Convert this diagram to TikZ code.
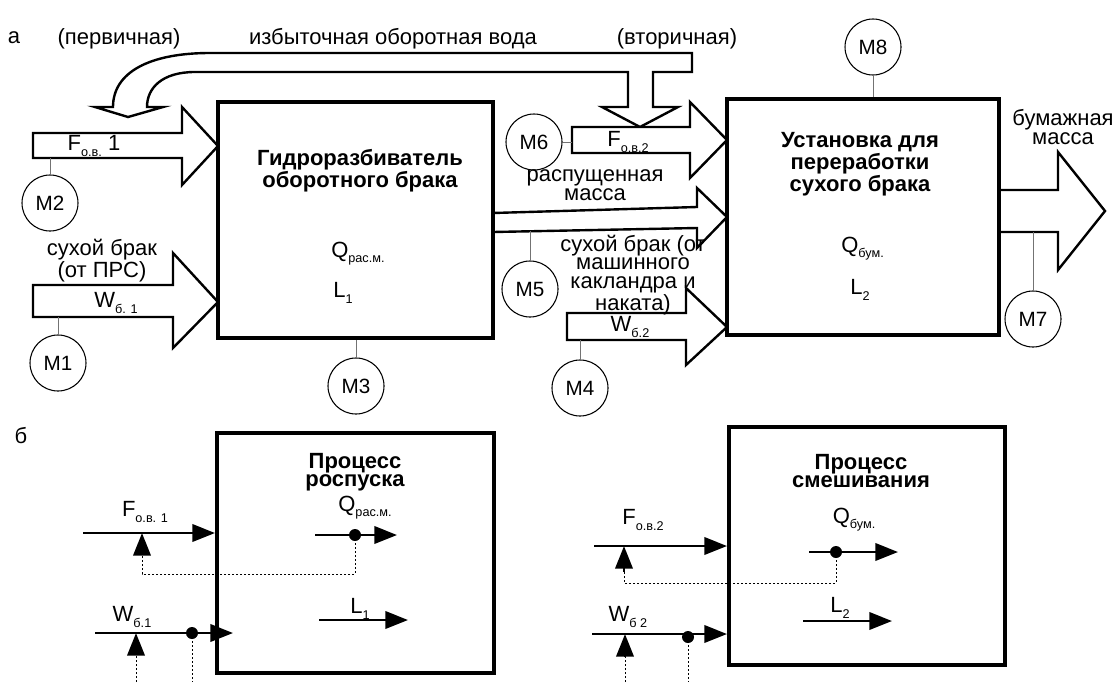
\documentclass[tikz,border=0pt]{standalone}
\usepackage{fontspec}
\setmainfont{Liberation Sans}
\usetikzlibrary{arrows.meta, positioning, fit, calc}
\newcommand{\sbs}[1]{\raisebox{-0.45ex}{\fontsize{9.5}{9.5}\selectfont #1}}

\begin{document}
\begin{tikzpicture}[
  x=0.75pt, y=-0.75pt,
  every node/.style={font=\fontsize{16.5}{13.8}\selectfont, inner sep=0pt},
  box/.style={draw, line width=3pt, inner sep=0pt},
  ttl/.style={font=\bfseries\fontsize{16.5}{13.3}\selectfont, align=center},
  lbl/.style={align=center},
  meter/.style={draw, circle, line width=0.8pt, minimum size=42pt, inner sep=0pt, font=\fontsize{15.5}{15.5}\selectfont},
  lead/.style={draw=black!55, line width=0.6pt},
  blk/.style={draw, fill=white, line width=1.8pt, line join=miter},
  sig/.style={line width=2pt, -{Triangle[length=17pt, width=13pt]}},
  tap/.style={line width=0.6pt, dash pattern=on 1.6pt off 1.4pt},
  dot/.style={circle, fill, minimum size=9pt, inner sep=0pt},
]
  \useasboundingbox (0,0) rectangle (1117,682);

  % ---- a: flows ----
  % recirculated water
  \draw[blk] (692,53) -- (692,72) -- (653,72) -- (653,107) -- (678,107) -- (640,127)
    -- (602,107) -- (628,107) -- (628,72) -- (195,72)
    .. controls (162,72) and (147,88) .. (147,107) -- (163,107) -- (128,117) -- (95,107)
    -- (113,107) .. controls (113,72) and (150,53) .. (210,53) -- cycle;
  % inputs of the pulper
  \draw[blk] (33,133) -- (182,133) -- (182,107) -- (218,146) -- (182,185) -- (182,158) -- (33,158) -- cycle;
  \draw[blk] (33,285) -- (173,285) -- (173,253) -- (218,302) -- (173,348) -- (173,317) -- (33,317) -- cycle;
  % inputs of the dry broke unit
  \draw[blk] (572,127) -- (690,127) -- (690,102) -- (727,140) -- (690,178) -- (690,153) -- (572,153) -- cycle;
  \draw[blk] (493,213) -- (697,207) -- (697,188) -- (727,217) -- (697,248) -- (697,228) -- (493,232);
  \draw[blk] (567,313) -- (686,313) -- (686,288) -- (727,327) -- (686,365) -- (686,340) -- (567,340) -- cycle;
  % output
  \draw[blk] (999,190) -- (1058,190) -- (1058,152) -- (1105,211) -- (1058,270) -- (1058,232) -- (999,232);

  % boxes
  \node[box, fit={(218,102) (493,338)}] (g1) {};
  \node[box, fit={(727,99) (999,335)}] (g2) {};

  % texts
  \node at (14,38) {а};
  \node at (119,39) {(первичная)};
  \node at (393,39) {избыточная оборотная вода};
  \node at (677,39) {(вторичная)};
  \node[ttl] at (360,171) {Гидроразбиватель\\оборотного брака};
  \node[ttl] at (860,164) {Установка для\\переработки\\сухого брака};
  \node[anchor=west] at (331,254) {Q\sbs{рас.м.}};
  \node[anchor=west] at (333,293) {L\sbs{1}};
  \node[anchor=west] at (841,249) {Q\sbs{бум.}};
  \node[anchor=west] at (850,290) {L\sbs{2}};
  \node at (94,146) {F\sbs{о.в.} 1};
  \node[lbl] at (102,261) {сухой брак\\(от ПРС)};
  \node at (116,303) {W\sbs{б. 1}};
  \node at (628,142) {F\sbs{о.в.2}};
  \node[lbl] at (595,185) {распущенная\\масса};
  \node[lbl] at (633,275) {сухой брак (от\\машинного\\какландра и\\наката)};
  \node at (630,327) {W\sbs{б.2}};
  \node[lbl] at (1063,127) {бумажная\\масса};

  % meters
  \node[meter] (m1) at (58,363) {M1};
  \node[meter] (m2) at (50,203) {M2};
  \node[meter] (m3) at (356,386) {M3};
  \node[meter] (m4) at (580,388) {M4};
  \node[meter] (m5) at (530,289) {M5};
  \node[meter] (m6) at (534,142) {M6};
  \node[meter] (m7) at (1033,319) {M7};
  \node[meter] (m8) at (873,47) {M8};
  \coordinate (f1b) at (50,158);
  \coordinate (w1b) at (58,317);
  \coordinate (w2b) at (580,340);
  \coordinate (rmb) at (530,231);
  \coordinate (f2l) at (572,142);
  \coordinate (outb) at (1033,232);
  \draw[lead] (m2) -- (f1b);
  \draw[lead] (m1) -- (w1b);
  \draw[lead] (m3) -- (m3 |- g1.south);
  \draw[lead] (m4) -- (w2b);
  \draw[lead] (m5) -- (rmb);
  \draw[lead] (m6) -- (f2l);
  \draw[lead] (m7) -- (outb);
  \draw[lead] (m8) -- (m8 |- g2.north);

  % ---- б: control loops ----
  \node at (21,436) {б};
  \node[box, fit={(217,433) (494,673)}] (b3) {};
  \node[box, fit={(729,427) (1005,665)}] (b4) {};
  \node[ttl] at (355,472) {Процесс\\роспуска};
  \node[ttl] at (861,471) {Процесс\\смешивания};

  % dissolving
  \node at (145,512) {F\sbs{о.в. 1}};
  \node at (365,508) {Q\sbs{рас.м.}};
  \node at (132,617) {W\sbs{б.1}};
  \node at (360,609) {L\sbs{1}};
  \coordinate (fi1) at (83,533);
  \coordinate (wi1) at (95,633);
  \coordinate (qo1) at (315,535);
  \coordinate (lo1) at (319,620);
  \node[dot] (qd1) at (355,535) {};
  \node[dot] (wd1) at (192,633) {};
  \coordinate (fu1) at (142,553);
  \coordinate (wu1) at (136,653);
  \draw[sig] (fi1) -- (fi1 -| b3.west);
  \draw[sig] (wi1) -- (233,633);
  \draw[sig] (qo1) -- (397,535);
  \draw[sig] (lo1) -- (408,620);
  \draw[sig] (fu1) -- (fu1 |- fi1);
  \draw[sig] (wu1) -- (wu1 |- wi1);
  \draw[tap] (qd1.center) -- ++(0,39) -| (fu1);
  \draw[tap] (wd1.center) -- (192,682);
  \draw[tap] (136,682) -- (wu1);

  % mixing
  \node at (643,520) {F\sbs{о.в.2}};
  \node at (854,520) {Q\sbs{бум.}};
  \node at (628,617) {W\sbs{б 2}};
  \node at (840,608) {L\sbs{2}};
  \coordinate (fi2) at (594,546);
  \coordinate (wi2) at (592,634);
  \coordinate (qo2) at (809,552);
  \coordinate (lo2) at (803,621);
  \node[dot] (qd2) at (836,552) {};
  \node[dot] (wd2) at (688,637) {};
  \coordinate (fu2) at (624,572);
  \coordinate (wu2) at (625,657);
  \draw[sig] (fi2) -- (fi2 -| b4.west);
  \draw[sig] (wi2) -- (wi2 -| b4.west);
  \draw[sig] (qo2) -- (898,552);
  \draw[sig] (lo2) -- (892,621);
  \draw[sig] (fu2) -- (fu2 |- fi2);
  \draw[sig] (wu2) -- (wu2 |- wi2);
  \draw[tap] (qd2.center) -- ++(0,31) -| (fu2);
  \draw[tap] (wd2.center) -- (688,682);
  \draw[tap] (625,682) -- (wu2);
\end{tikzpicture}
\end{document}
